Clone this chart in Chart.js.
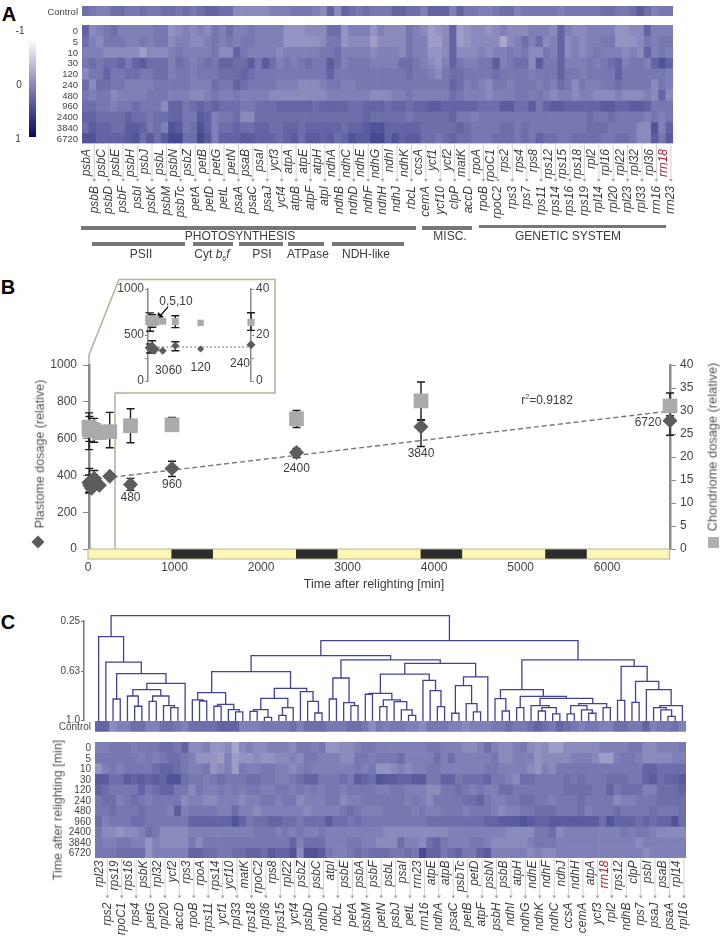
<!DOCTYPE html>
<html>
<head>
<meta charset="utf-8">
<title>Plastome and chondriome dosage after relighting</title>
<script src="https://cdn.jsdelivr.net/npm/chart.js@4"></script>
<style>
    html, body { margin: 0; padding: 0; background: #fff; }
    #page { position: relative; width: 722px; height: 941px; overflow: hidden; font-family: "Liberation Sans", Arial, sans-serif; color: #3c3c3c; }
    canvas, svg { position: absolute; }
    canvas.heat { filter: blur(0.45px); }
    .label { position: absolute; white-space: nowrap; line-height: 1; }
    sub, sup { font-size: 60%; line-height: 0; }
</style>
</head>
<body>
<div id="page"></div>
<script>
// Gene order in panel A and in panel C (clustered)
const genesA = ['psbA','psbB','psbC','psbD','psbE','psbF','psbH','psbI','psbJ','psbK','psbL','psbM','psbN','psbTc','psbZ','petA','petB','petD','petG','petL','petN','psaA','psaB','psaC','psaI','psaJ','ycf3','ycf4','atpA','atpB','atpE','atpF','atpH','atpI','ndhA','ndhB','ndhC','ndhD','ndhE','ndhF','ndhG','ndhH','ndhI','ndhJ','ndhK','rbcL','ccsA','cemA','ycf1','ycf10','ycf2','clpP','matK','accD','rpoA','rpoB','rpoC1','rpoC2','rps2','rps3','rps4','rps7','rps8','rps11','rps12','rps14','rps15','rps16','rps18','rps19','rpl2','rpl14','rpl16','rpl20','rpl22','rpl23','rpl32','rpl33','rpl36','rrn16','rrn18','rrn23'];
const genesC = ['rpl23','rps2','rps19','rpoC1','rps16','rps4','psbK','petG','rpl32','rpl20','ycf2','accD','rps3','rpoB','rpoA','rps11','rps14','ycf1','ycf10','rpl33','matK','rps18','rpoC2','rpl36','rps8','rps15','rpl22','ycf4','psbZ','psbD','psbC','ndhD','atpI','rbcL','psbE','petA','psbA','psbM','psbF','petN','psbL','psbJ','psaI','petL','rrn23','rrn16','atpE','ndhA','atpB','psaC','psbTc','petB','petD','atpF','psbN','psbH','psbB','ndhI','atpH','ndhG','ndhE','ndhK','ndhF','ndhC','ndhJ','ccsA','ndhH','cemA','atpA','ycf3','rrn18','rpl2','rps12','ndhB','clpP','rps7','psbI','psaJ','psaB','psaA','rpl14','rpl16'];
const timeRows = ['0','5','10','30','120','240','480','960','2400','3840','6720'];

// Heat map levels
const controlA = [2,1,0,0,2,2,1,1,2,1, 1,2,2,1,2,1,2,3,3,2, 2,-1,-1,-1,-1,-1,0,0,0,1, 1,1,0,-1,3,-1,3,2,1,2, 1,1,1,3,3,2,2,0,3,3, 3,0,3,1,1,0,0,1,2,2, 0,1,1,1,1,1,0,1,1,1, 1,1,2,2,1,1,2,4,2,0, 1,1];
const a0 = [3,-1,0,1,2,0,0,0,0,0, 1,1,-2,-1,0,-1,0,-1,1,0, 2,0,0,1,0,0,0,0,-2,-2, -2,-1,-1,-1,2,2,-2,0,0,0, -2,0,-1,-1,-1,1,0,-1,-3,-2, -1,3,-3,-2,-1,-1,-2,-1,0,-1, -1,-1,0,0,0,-1,3,0,-1,-1, 0,0,0,0,-2,-2,-1,-1,3,0, 0,0];
const a5 = [2,0,-1,1,1,1,0,0,1,0, 1,1,-1,0,0,-1,-1,0,1,0, 1,0,1,1,0,0,0,0,-2,-2, -2,-2,-2,-1,1,1,-2,-1,-1,-1, -3,-1,-1,-1,-1,1,0,0,-3,-3, -1,3,-3,-2,-1,-1,-1,-1,-4,-1, 0,2,0,2,-1,0,3,-1,0,-1, 0,0,1,1,-2,-2,-2,-1,1,0, 1,1];
const a10 = [0,0,0,-1,-1,-1,-1,-1,-3,-1, -1,-1,0,1,0,0,0,0,1,-1, -1,3,1,0,0,0,0,-1,0,0, 0,0,0,1,1,2,0,0,0,0, -1,0,0,0,-1,1,0,0,-2,-2, -1,3,-1,-1,-1,0,-1,0,0,1, 0,1,-1,-1,1,0,3,-1,0,-1, 0,1,0,0,0,-1,0,-1,3,0, 1,0];
const a30 = [1,2,1,2,2,3,1,3,4,2, 2,2,0,2,1,0,1,2,1,3, 3,2,2,4,1,4,2,0,1,0, 1,2,1,1,4,2,0,1,1,1, 0,0,0,0,2,2,1,0,-1,-2, 0,3,1,0,0,1,1,4,0,1, 2,2,-1,4,1,1,3,0,0,0, 1,0,1,2,3,0,1,1,0,3, 5,3];
const a120 = [-1,1,1,3,1,1,2,2,1,1, 2,2,0,1,1,0,1,1,1,2, 2,2,3,2,1,1,1,1,1,1, 1,1,1,1,3,1,1,1,1,1, 1,1,1,1,1,2,1,1,0,-1, 1,2,2,1,1,1,1,2,1,1, 1,1,0,1,1,1,3,1,1,0, 1,1,1,1,3,1,1,1,1,1, 1,0];
const a240 = [2,-1,2,2,1,1,0,0,0,0, 1,1,1,1,1,0,0,0,2,1, 1,3,2,1,1,1,1,0,0,0, -1,-1,-1,0,1,1,0,0,1,1, 1,1,1,1,1,1,1,1,1,1, 1,3,2,0,1,0,-1,1,1,0, 1,1,1,0,1,0,2,1,-1,1, 0,0,1,1,2,1,1,1,1,-1, 1,0];
const a480 = [1,0,1,1,-1,0,0,0,0,1, 1,1,0,0,0,-1,-1,0,1,0, 0,1,0,0,0,0,-1,-1,-1,-1, -1,-1,-1,-1,0,0,0,0,0,0, -1,-1,-1,0,0,1,0,0,0,0, 0,2,1,0,0,0,-1,0,0,0, 1,1,0,1,0,-1,0,0,-1,0, 0,-1,-1,-1,0,-1,-1,-1,0,-1, 3,-1];
const a960 = [2,2,1,1,0,1,1,2,1,1, 1,-1,3,3,1,2,3,2,3,2, 2,2,1,1,2,2,2,3,3,3, 3,3,2,3,3,3,3,2,2,3, 3,3,2,3,3,2,3,3,4,4, 3,3,3,3,3,2,2,2,4,4, 2,2,4,1,3,4,4,3,3,3, 3,3,4,4,3,3,4,4,3,1, 1,1];
const a2400 = [3,3,2,2,2,2,3,2,2,1, 2,2,3,3,1,1,4,3,0,1, 1,2,-1,-1,2,2,2,2,2,2, 2,2,2,2,2,2,2,2,2,3, 2,2,2,2,2,1,2,2,2,2, 2,3,1,1,0,1,1,1,1,1, 1,1,1,1,1,1,1,1,1,1, 2,1,1,2,1,1,1,1,0,1, 0,1];
const a3840 = [2,4,3,3,2,2,4,4,3,1, 2,0,5,4,1,2,5,3,0,2, 2,3,2,2,3,3,2,2,3,3, 2,3,3,3,3,3,2,3,3,4, 5,5,3,3,3,3,3,2,2,2, 2,2,3,2,1,1,1,1,2,2, 1,2,1,1,1,1,1,1,1,1, 2,2,2,1,1,1,1,-1,-1,5, 0,3];
const a6720 = [5,5,3,3,3,3,4,5,2,4, 2,4,6,6,2,2,6,4,0,3, 3,3,4,4,3,3,3,2,3,4, 2,4,4,3,4,2,3,5,4,4, 6,6,3,5,3,4,4,2,2,1, 2,3,2,2,1,1,1,2,2,2, 1,2,1,3,2,2,1,1,2,2, 2,2,1,1,2,2,1,-1,-1,4, 1,4];
const rowsA = [a0, a5, a10, a30, a120, a240, a480, a960, a2400, a3840, a6720];

const controlC = [3,3,-1,0,0,2,2,0,0,2, 2,1,0,2,2,2,2,3,3,3, 0,0,0,1,1,1,1,2,0,2, 2,2,1,1,1,2,2,1,-1,1, 0,1,1,0,0,-1,1,1,1,0, 0,-1,0,0,0,1,1,2,1,1, 2,3,2,1,3,2,1,0,1,1, 0,0,2,2,1,1,3,0,1,1, 2,0];
const c0 = [0,0,1,1,1,0,1,1,1,2, 2,1,3,-1,-1,0,-2,-2,-1,-4, -1,0,-1,-1,0,0,0,-1,1,1, 0,1,-2,-2,-1,-1,0,1,1,0, 0,0,0,0,0,0,1,1,0,0, 0,-1,-1,0,2,0,-1,-1,0,1, -1,-2,-1,-3,-3,-1,-1,-1,-1,-1, 0,0,0,0,1,1,-1,-1,0,0, 0,1];
const c5 = [1,1,1,1,1,1,0,1,0,1, 2,2,1,0,-2,-2,-2,-3,0,-3, -2,-2,-1,-2,-2,-1,-1,0,-1,1, 1,0,0,0,-1,-1,1,1,0,1, 1,1,2,0,0,0,0,2,0,2, 0,0,0,0,0,1,-1,-1,0,0, 0,-2,-1,-1,-1,-1,0,0,0,-1, -3,-3,0,1,1,0,-1,-1,-1,-1, 0,0];
const c10 = [-2,0,1,0,1,1,1,1,2,3, 3,2,1,0,0,1,-2,-1,0,-3, 1,0,0,1,1,0,0,-1,0,1, 0,0,0,0,0,0,1,0,1,-2, -2,-1,0,-1,0,0,1,1,0,0, 0,0,0,0,1,1,0,0,0,0, -1,-2,0,-1,1,1,1,1,1,1, 1,1,1,1,1,1,3,3,2,2, 2,2];
const c30 = [4,4,2,2,4,3,4,3,4,3, 5,5,2,1,1,0,1,2,1,1, 1,2,2,1,1,0,0,1,2,3, 3,1,1,1,2,1,4,3,2,5, 4,4,3,3,4,4,1,1,3,3, 1,2,2,2,3,1,1,0,-1,2, 2,1,1,1,1,2,1,2,1,1, 1,2,2,2,1,1,3,4,2,3, 3,4];
const c120 = [3,2,1,1,1,1,3,1,2,3, 3,1,1,-1,1,0,0,1,0,1, 0,1,1,0,0,1,1,0,1,0, 1,0,1,1,0,1,1,1,1,0, 0,1,1,0,0,0,-1,-1,1,1, 2,1,0,1,0,0,2,2,1,1, 1,1,1,1,1,2,2,2,2,1, 1,3,1,2,2,2,0,0,2,2, 2,3];
const c240 = [1,2,2,0,1,2,1,0,1,1, 1,1,-1,0,0,-1,-1,0,0,0, -1,0,0,1,1,0,1,1,-1,0, 0,0,1,1,-1,0,0,1,1,1, 1,1,1,0,1,0,-1,1,1,1, 1,2,2,3,1,0,0,1,1,2, 2,1,1,0,1,1,1,2,1,1, 1,1,-1,0,0,1,1,1,2,2, 2,2];
const c480 = [1,1,2,1,1,1,2,1,1,1, 0,4,0,1,1,1,1,0,0,2, 0,0,-1,0,0,0,0,0,0,-1, 0,0,0,0,1,2,1,0,0,0, 1,1,1,1,0,1,0,0,1,1, 1,0,1,1,1,0,-1,0,0,1, 1,2,2,2,1,1,1,2,0,1, 1,1,2,1,1,1,1,2,1,1, 1,2];
const c960 = [2,0,1,1,1,2,2,1,1,1, 1,1,1,3,3,3,3,3,3,5, 3,1,2,2,3,3,2,2,1,2, 2,2,4,2,2,1,2,1,1,1, 1,1,1,1,1,1,2,2,2,2, 2,2,2,2,3,3,4,4,4,5, 4,3,3,4,4,4,4,4,4,4, 2,5,3,3,3,2,3,2,3,3, 5,2];
const c2400 = [1,-1,-1,-2,-1,-1,0,2,1,-1, -1,-1,-1,0,0,0,0,0,0,0, 0,0,1,1,1,0,1,0,1,0, 0,1,0,0,0,0,0,0,0,0, -1,-1,-1,-1,-1,-1,-1,-1,-1,0, 0,0,0,0,0,0,0,-1,-1,-1, -1,1,1,2,-1,0,0,0,0,0, 0,0,0,1,0,1,1,0,-1,-1, -1,-1];
const c3840 = [1,0,0,1,1,0,0,-2,0,-1, -1,-1,-1,1,-1,1,1,1,1,1, 1,1,1,1,1,1,1,3,0,2, 2,2,0,0,0,1,1,0,0,-1, -1,-1,2,0,0,-1,2,3,1,0, 0,0,1,1,0,-1,-1,-1,-1,-1, 0,1,1,1,0,0,0,0,0,0, 0,0,0,0,0,-1,0,0,0,0, 0,0];
const c6720 = [1,1,1,2,2,2,2,-2,0,0, 0,0,0,3,3,2,2,1,1,2, 2,3,3,2,4,3,3,5,-1,5, 5,4,1,0,0,1,2,1,2,2, 2,1,1,2,1,6,3,3,1,2, 3,1,1,3,4,0,0,0,0,0, -1,0,-1,-1,0,0,0,0,0,0, 0,0,0,0,0,0,-1,0,0,0, 0,0];
const rowsC = [c0, c5, c10, c30, c120, c240, c480, c960, c2400, c3840, c6720];

// Panel B values
const times = [0,5,10,30,60,120,240,480,960,2400,3840,6720];
const plastome = [362,359,345,330,384,347,395,351,437,524,665,697];
const plastomeHigh = [402,438,null,null,427,null,null,384,477,546,700,724];
const plastomeLow = [304,310,null,null,329,null,null,319,394,497,557,618];
const chondriome = [26.5,25.8,26.2,26,25.8,25.3,25.5,26.8,27,28.3,32.2,31.1];
const chondriomeHigh = [29.6,28.8,null,null,28.4,null,29.7,30.5,28.6,30.1,36.3,33.9];
const chondriomeLow = [21.6,23.4,null,null,23.2,null,22,23.1,25.7,26.4,28.1,29];
const trendTimes = [0,6720];
const trendPlastome = [375,750];
const insetTrendTimes = [0,240];
const insetTrendPlastome = [370,370];
const phaseMinutes = [960,480,960,480,960,480,960,480,960];
const timeTicks = [0,1000,2000,3000,4000,5000,6000];

// Cluster tree for panel C: [height, left, right], 0 is a leaf
const L = 0;
const clusterRibo = [.369,L,[.561,L,[.649,[.841,L,L],[.722,[.770,[.818,L,[.896,L,L]],[.818,[.859,L,L],[.891,L,[.906,L,L]]]],L]]]];
const clusterSecond = [.634,[.793,[.848,L,[.856,L,L]],[.881,[.896,L,L],[.921,L,[.939,L,L]]]],[.760,[.836,[.921,[.934,L,L],[.980,L,L]],[.906,[.965,L,L],L]],[.785,L,[.859,L,[.947,L,L]]]]];
const clusterPsbLeft = [.682,[.841,L,L],[.869,L,[.891,L,L]]];
const clusterPsbRight = [.571,[.652,[.798,[.805,L,L],[.848,[.899,L,L],[.861,L,[.924,L,[.965,L,L]]]]],[.700,L,[.778,L,[.899,L,L]]]],[.674,[.740,[.949,L,L],[.876,L,[.939,L,L]]],L]];
const clusterNdh = [.770,[.838,L,[.932,L,L]],[.821,[.906,L,L],[.836,[.891,L,[.906,[.932,L,L],[.954,L,L]]],[.876,[.891,[.954,L,L],[.924,L,[.949,L,L]]],[.906,L,L]]]]];
const clusterLast = [.594,[.851,L,L],[.707,[.866,L,L],[.770,L,[.891,[.906,L,[.924,L,[.972,L,L]]],L]]]];
const clusterRoot = [.210,clusterRibo,[.399,[.513,clusterSecond,[.545,clusterPsbLeft,clusterPsbRight]],[.545,clusterNdh,clusterLast]]];
const leafLevel = 1.008;

const fontFamily = '"Liberation Sans", Arial, sans-serif';
Chart.defaults.font.family = fontFamily;
Chart.defaults.color = '#444';
Chart.defaults.animation = false;
Chart.defaults.responsive = false;
Chart.defaults.plugins.legend.display = false;
Chart.defaults.plugins.tooltip.enabled = false;

const page = document.getElementById('page');

function addCanvas(left, top, width, height, className) {
    const c = document.createElement('canvas');
    c.width = width;
    c.height = height;
    c.style.left = left + 'px';
    c.style.top = top + 'px';
    c.style.width = width + 'px';
    c.style.height = height + 'px';
    if (className) c.className = className;
    page.appendChild(c);
    return c;
}

function addLabel(html, x, y, size, opts = {}) {
    const d = document.createElement('div');
    d.className = 'label';
    d.innerHTML = html;
    d.style.left = x + 'px';
    d.style.top = y + 'px';
    d.style.fontSize = size + 'px';
    if (opts.bold) d.style.fontWeight = 'bold';
    if (opts.color) d.style.color = opts.color;
    d.style.transform = 'translate(-50%,-50%)' + (opts.rotate ? ' rotate(' + opts.rotate + 'deg)' : '');
    page.appendChild(d);
}

function addBar(x0, x1, y0, y1) {
    const d = document.createElement('div');
    d.style.cssText = 'position:absolute;background:#777;left:' + x0 + 'px;top:' + y0 + 'px;width:' + (x1 - x0) + 'px;height:' + (y1 - y0) + 'px';
    page.appendChild(d);
}

// -1 white, 0 mid blue, 1 navy
function scaleColor(v) {
    const mid = [128, 128, 184], low = [255, 255, 255], high = [8, 8, 100];
    const from = v < 0 ? low : mid, to = v < 0 ? mid : high, t = v < 0 ? v + 1 : v;
    const c = from.map((f, i) => Math.round(f + (to[i] - f) * t));
    return 'rgb(' + c.join(',') + ')';
}
const heatColor = level => scaleColor(level / 13);

// Fixed axis box, so that the plot area lands where it should and tick labels add no margin
function fixAxis(width) {
    return s => {
        s.width = width;
        s.paddingTop = 0;
        s.paddingBottom = 0;
    };
}

// Rotated, staggered gene names with the small arrows to the lower row
function geneLabels(genes, upperGap, lowerGap) {
    return {
        id: 'geneLabels',
        afterDraw(chart) {
            const { ctx, chartArea } = chart;
            const xs = chart.scales.x;
            genes.forEach((gene, i) => {
                const x = xs.getPixelForValue(i) + 1.5;
                const lower = i % 2 === 1;
                const top = chartArea.bottom + (lower ? lowerGap : upperGap);
                if (lower) {
                    ctx.strokeStyle = '#c4c4c4';
                    ctx.fillStyle = '#a8a8a8';
                    ctx.lineWidth = 0.8;
                    ctx.beginPath();
                    ctx.moveTo(x, chartArea.bottom + 1);
                    ctx.lineTo(x, top - 5);
                    ctx.stroke();
                    ctx.beginPath();
                    ctx.moveTo(x - 2, top - 7);
                    ctx.lineTo(x + 2, top - 7);
                    ctx.lineTo(x, top - 4);
                    ctx.fill();
                }
                ctx.save();
                ctx.translate(x, top);
                ctx.rotate(-Math.PI / 2);
                ctx.font = 'italic 12px ' + fontFamily;
                ctx.textAlign = 'right';
                ctx.textBaseline = 'middle';
                ctx.fillStyle = gene === 'rrn18' ? '#b3202e' : '#3c3c3c';
                ctx.fillText(gene, 0, 0);
                ctx.restore();
            });
        }
    };
}

// One stacked bar per gene, one dataset per time row, colour carries the value
function heatmap(canvas, genes, rows, rowLabels, axisWidth, padding, fontSize, plugins) {
    return new Chart(canvas, {
        type: 'bar',
        data: {
            labels: genes,
            datasets: rows.map(r => ({
                data: r.map(() => 1),
                backgroundColor: r.map(heatColor),
                barPercentage: 1,
                categoryPercentage: 1,
                borderWidth: 0
            }))
        },
        options: {
            layout: { padding },
            scales: {
                x: { stacked: true, display: false },
                y: {
                    stacked: true,
                    reverse: true,
                    min: 0,
                    max: rows.length,
                    grid: { display: false, drawTicks: false },
                    border: { display: false },
                    afterFit: fixAxis(axisWidth),
                    afterBuildTicks(s) { s.ticks = rowLabels.map((_, i) => ({ value: i + 0.5 })); },
                    ticks: {
                        padding: 4,
                        labelOffset: 1,
                        autoSkip: false,
                        font: { size: fontSize },
                        callback: (v, i) => rowLabels[i]
                    }
                }
            }
        },
        plugins: plugins || []
    });
}

function errorBars(xValues, yAxis, low, high) {
    return {
        id: 'errorBars' + yAxis,
        beforeDatasetsDraw(chart) {
            const { ctx } = chart;
            const xs = chart.scales.x, ys = chart.scales[yAxis];
            ctx.save();
            ctx.strokeStyle = '#1c1c1c';
            ctx.lineWidth = 1.4;
            xValues.forEach((t, i) => {
                if (low[i] === null) return;
                const x = xs.getPixelForValue(t);
                const y0 = ys.getPixelForValue(low[i]), y1 = ys.getPixelForValue(high[i]);
                ctx.beginPath();
                ctx.moveTo(x, y0); ctx.lineTo(x, y1);
                ctx.moveTo(x - 4, y0); ctx.lineTo(x + 4, y0);
                ctx.moveTo(x - 4, y1); ctx.lineTo(x + 4, y1);
                ctx.stroke();
            });
            ctx.restore();
        }
    };
}

// Time labels next to the plastome diamonds
function timeLabels(xValues, yValues, yAxis, shown, offsets, size) {
    return {
        id: 'timeLabels',
        afterDraw(chart) {
            const { ctx } = chart;
            ctx.save();
            ctx.font = size + 'px ' + fontFamily;
            ctx.fillStyle = '#3c3c3c';
            ctx.textAlign = 'center';
            ctx.textBaseline = 'middle';
            shown.forEach((i, k) => {
                const x = chart.scales.x.getPixelForValue(xValues[i]) + offsets[k][0];
                const y = chart.scales[yAxis].getPixelForValue(yValues[i]) + offsets[k][1];
                ctx.fillText(String(xValues[i]), x, y);
            });
            ctx.restore();
        }
    };
}

const stripOutline = {
    id: 'stripOutline',
    afterDraw(chart) {
        const { ctx, chartArea: a } = chart;
        ctx.save();
        ctx.strokeStyle = '#b7b095';
        ctx.lineWidth = 1;
        ctx.strokeRect(a.left, a.top, a.right - a.left, a.bottom - a.top);
        ctx.restore();
    }
};

const xy = (xs, ys) => xs.map((x, i) => ({ x, y: ys[i] }));
const firstSeven = a => a.slice(0, 7);
const plainTick = v => String(v);

// Decoration under the charts: zoom frame of the inset, its arrow, legend marks
page.insertAdjacentHTML('beforeend', `
<svg width="722" height="941" style="left:0;top:0">
  <polyline points="89,549 89,355 119,279.5 275,279.5 275,393 115,393 115,549" fill="none" stroke="#b7b095" stroke-width="1.5"/>
  <line x1="168" y1="307" x2="160" y2="316" stroke="#111" stroke-width="1.2"/>
  <polygon points="157,319 158,312 164,317" fill="#111"/>
  <polygon points="38,535.5 44.5,542 38,548.5 31.5,542" fill="#5a5a5a"/>
  <rect x="708" y="537" width="11" height="11" fill="#b0b0b0"/>
</svg>`);

// Panel A
addLabel('A', 9, 14, 20, { bold: true, color: '#000' });
addLabel('B', 8, 287, 20, { bold: true, color: '#000' });
addLabel('C', 8, 622, 20, { bold: true, color: '#000' });

heatmap(addCanvas(30, 1, 650, 20, 'heat'), genesA, [controlA], ['Control'], 52, { right: 7, top: 5, bottom: 5 }, 9.5);
heatmap(addCanvas(30, 25, 650, 200, 'heat'), genesA, rowsA, timeRows, 52, { right: 7, bottom: 81.5 }, 9.5, [geneLabels(genesA, 5.5, 42.5)]);

new Chart(addCanvas(29, 39, 7, 98), {
    type: 'bar',
    data: {
        labels: [''],
        datasets: [{
            data: [[-1, 1]],
            barPercentage: 1,
            categoryPercentage: 1,
            backgroundColor(context) {
                const area = context.chart.chartArea;
                if (!area) return '#8080b8';
                const g = context.chart.ctx.createLinearGradient(0, area.top, 0, area.bottom);
                g.addColorStop(0, scaleColor(-1));
                g.addColorStop(0.5, scaleColor(0));
                g.addColorStop(1, scaleColor(1));
                return g;
            }
        }]
    },
    options: { scales: { x: { display: false }, y: { display: false, reverse: true, min: -1, max: 1 } } }
});
addLabel('-1', 20, 31, 10);
addLabel('0', 19, 85, 10);
addLabel('1', 18, 139, 10);

addBar(81, 416, 226, 229.5);
addBar(422, 472, 226, 229.5);
addBar(479, 666, 224.5, 228);
addBar(91.5, 185, 242, 245.5);
addBar(193, 233, 242, 245.5);
addBar(239, 283, 242, 245.5);
addBar(288, 324, 242, 245.5);
addBar(332, 404, 242, 245.5);
addLabel('PHOTOSYNTHESIS', 240, 236, 12);
addLabel('MISC.', 450, 236, 12);
addLabel('GENETIC SYSTEM', 568, 236, 12);
addLabel('PSII', 141, 254, 12);
addLabel('Cyt <i>b</i><sub>6</sub><i>f</i>', 212, 254, 12);
addLabel('PSI', 262, 254, 12);
addLabel('ATPase', 308, 254, 12);
addLabel('NDH-like', 366, 254, 12);

// Panel B, main plot
new Chart(addCanvas(0, 350, 722, 210), {
    type: 'scatter',
    data: {
        datasets: [
            {
                data: xy(times, chondriome),
                yAxisID: 'yRight',
                pointStyle: 'rect',
                pointRadius: 10.4,
                backgroundColor: '#aaaaaa',
                borderWidth: 0,
                clip: false
            },
            {
                data: xy(times, plastome),
                yAxisID: 'yLeft',
                pointStyle: 'rectRot',
                pointRadius: 7.5,
                backgroundColor: '#5c5c5c',
                borderWidth: 0,
                clip: false
            },
            {
                data: xy(trendTimes, trendPlastome),
                yAxisID: 'yLeft',
                showLine: true,
                pointRadius: 0,
                borderColor: '#777',
                borderWidth: 1.4,
                borderDash: [5, 3],
                clip: false
            }
        ]
    },
    options: {
        layout: { padding: { top: 15, bottom: 11 } },
        scales: {
            x: { type: 'linear', display: false, min: 0, max: 6720 },
            yLeft: {
                position: 'left',
                min: 0,
                max: 1000,
                afterFit: fixAxis(89),
                border: { color: '#8a8a8a', width: 2.5 },
                grid: { drawOnChartArea: false, color: '#8a8a8a', tickLength: 6 },
                ticks: { stepSize: 200, padding: 6, font: { size: 12 }, callback: plainTick }
            },
            yRight: {
                position: 'right',
                min: 0,
                max: 40,
                afterFit: fixAxis(52),
                border: { color: '#8a8a8a', width: 2.5 },
                grid: { drawOnChartArea: false, color: '#8a8a8a', tickLength: 6 },
                ticks: { stepSize: 5, padding: 4, font: { size: 12 } }
            }
        }
    },
    plugins: [
        errorBars(times, 'yLeft', plastomeLow, plastomeHigh),
        errorBars(times, 'yRight', chondriomeLow, chondriomeHigh),
        timeLabels(times, plastome, 'yLeft', [7, 8, 9, 10, 11], [[0, 13], [0, 16], [0, 16], [0, 27], [-22, 2]], 12)
    ]
});

// Panel B, light and dark phases with the time axis
new Chart(addCanvas(0, 545, 722, 41), {
    type: 'bar',
    data: {
        labels: [''],
        datasets: phaseMinutes.map((m, i) => ({
            data: [m],
            backgroundColor: i % 2 ? '#2c2c2c' : '#fdf6b4',
            borderWidth: 0,
            barPercentage: 1,
            categoryPercentage: 1
        }))
    },
    options: {
        indexAxis: 'y',
        layout: { padding: { left: 88, right: 52.5, top: 4 } },
        scales: {
            x: {
                type: 'linear',
                stacked: true,
                min: 0,
                max: 6720,
                afterFit(s) { s.height = 27; s.paddingLeft = 0; s.paddingRight = 0; },
                afterBuildTicks(s) { s.ticks = timeTicks.map(value => ({ value })); },
                grid: { display: false, drawTicks: false },
                border: { display: false },
                ticks: { padding: 1, maxRotation: 0, font: { size: 12 }, callback: plainTick }
            },
            y: { stacked: true, display: false }
        }
    },
    plugins: [stripOutline]
});
addLabel('Time after relighting [min]', 374, 584, 12.5);
addLabel('Plastome dosage (relative)', 40, 454, 12.5, { rotate: -90, color: '#555' });
addLabel('Chondriome dosage (relative)', 713, 447, 12.8, { rotate: -90, color: '#555' });
addLabel('r<sup>2</sup>=0.9182', 547, 400, 12);

// Panel B, inset with the first 240 minutes
new Chart(addCanvas(118, 280, 157, 112), {
    type: 'scatter',
    data: {
        datasets: [
            {
                data: xy(firstSeven(times), firstSeven(chondriome)),
                yAxisID: 'yRight',
                pointStyle: 'rect',
                pointRadius: [7, 7, 7, 5, 5, 4.5, 5],
                backgroundColor: '#aaaaaa',
                borderWidth: 0,
                clip: false
            },
            {
                data: xy(firstSeven(times), firstSeven(plastome)),
                yAxisID: 'yLeft',
                pointStyle: 'rectRot',
                pointRadius: [5.5, 5.5, 5.5, 4, 4, 3.5, 4.5],
                backgroundColor: '#5c5c5c',
                borderWidth: 0,
                clip: false
            },
            {
                data: xy(insetTrendTimes, insetTrendPlastome),
                yAxisID: 'yLeft',
                showLine: true,
                pointRadius: 0,
                borderColor: '#777',
                borderWidth: 1,
                borderDash: [2, 2]
            }
        ]
    },
    options: {
        layout: { padding: { top: 9, bottom: 11 } },
        scales: {
            x: { type: 'linear', display: false, min: -5, max: 240 },
            yLeft: {
                position: 'left',
                min: 0,
                max: 1000,
                afterFit: fixAxis(30),
                border: { color: '#8a8a8a', width: 1.5 },
                grid: { drawOnChartArea: false, color: '#8a8a8a', tickLength: 3 },
                ticks: { stepSize: 250, padding: 1, font: { size: 12 }, callback: v => (v % 500 === 0 ? String(v) : '') }
            },
            yRight: {
                position: 'right',
                min: 0,
                max: 40,
                afterFit: fixAxis(24),
                border: { color: '#8a8a8a', width: 1.5 },
                grid: { drawOnChartArea: false, color: '#8a8a8a', tickLength: 3 },
                ticks: { stepSize: 10, padding: 2, font: { size: 12 }, callback: v => (v % 20 === 0 ? String(v) : '') }
            }
        }
    },
    plugins: [
        errorBars(firstSeven(times), 'yLeft', firstSeven(plastomeLow), firstSeven(plastomeHigh)),
        errorBars(firstSeven(times), 'yRight', firstSeven(chondriomeLow), firstSeven(chondriomeHigh)),
        timeLabels(firstSeven(times), firstSeven(plastome), 'yLeft', [3, 4, 5, 6], [[-1, 20], [0, 25], [0, 19], [-11, 19]], 12)
    ]
});
addLabel('0,5,10', 176, 301, 12);

// Panel C, dendrogram walked from the cluster tree
const branchPoints = [];
let nextLeaf = 0;
function walkTree(node) {
    if (node === L) return { x: nextLeaf++, y: leafLevel };
    const [height, left, right] = node;
    const a = walkTree(left), b = walkTree(right);
    branchPoints.push({ x: a.x, y: a.y }, { x: a.x, y: height }, { x: b.x, y: height }, { x: b.x, y: b.y }, { x: NaN, y: NaN });
    return { x: (a.x + b.x) / 2, y: height };
}
walkTree(clusterRoot);

new Chart(addCanvas(40, 606, 660, 125), {
    type: 'scatter',
    data: {
        datasets: [{
            data: branchPoints,
            showLine: true,
            spanGaps: false,
            pointRadius: 0,
            borderColor: '#41419a',
            borderWidth: 1.3,
            clip: false
        }]
    },
    options: {
        layout: { padding: { top: 15, right: 14, bottom: 11 } },
        scales: {
            x: { type: 'linear', display: false, min: -2.03, max: 81.5 },
            y: {
                reverse: true,
                min: 0.25,
                max: 1,
                afterFit: fixAxis(44),
                afterBuildTicks(s) { s.ticks = [0.25, 0.63, 1].map(value => ({ value })); },
                border: { color: '#777', width: 1.5 },
                grid: { drawOnChartArea: false, color: '#777', tickLength: 3 },
                ticks: { padding: 1, font: { size: 10 }, callback: v => (v === 1 ? '1.0' : String(v)) }
            }
        }
    }
});

heatmap(addCanvas(40, 716, 653, 21, 'heat'), genesC, [controlC], ['Control'], 55, { right: 7, top: 5, bottom: 5.3 }, 10);
heatmap(addCanvas(40, 741.7, 653, 200, 'heat'), genesC, rowsC, timeRows, 55, { right: 7, bottom: 84 }, 10, [geneLabels(genesC, 2.5, 44.5)]);
addLabel('Time after relighting [min]', 58, 810, 12.5, { rotate: -90, color: '#555' });
</script>
</body>
</html>
